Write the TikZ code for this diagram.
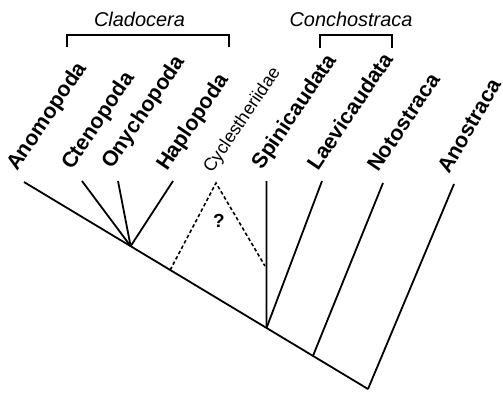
\documentclass[tikz,border=0pt]{standalone}
\usepackage{fontspec}
\setmainfont{Liberation Sans}
\usetikzlibrary{positioning,calc}
\tikzset{
  % --- nodes
  taxon/.style = {font=\fontsize{21.5}{22}\selectfont\bfseries, rotate=56,
                  anchor=base west, inner sep=0pt},
  minor/.style = {taxon, font=\fontsize{18}{18}\selectfont},
  group/.style = {font=\fontsize{20}{22}\selectfont\itshape, inner sep=0pt,
                  anchor=base},
  quest/.style = {font=\fontsize{19}{20}\selectfont\bfseries, inner sep=0pt},
  % --- edges
  br/.style    = {line width=1.8bp, draw=black},
  unsure/.style= {br, line width=1.6bp, dash pattern=on 3.5bp off 2.5bp},
  bk/.style    = {line width=1.5bp, draw=black},
}
\begin{document}
\begin{tikzpicture}[x=1bp,y=-1bp]
  \useasboundingbox (0,0) rectangle (503,393);
  \coordinate (r)  at (368,389);
  \coordinate (a)  at (24,182);
  \coordinate (cl) at ($(r)!0.69!(a)$);
  \coordinate (cy) at ($(r)!0.575!(a)$);
  \coordinate (co) at ($(r)!0.295!(a)$);
  \coordinate (no) at ($(r)!0.16!(a)$);
  \coordinate (ct) at (82,181);
  \coordinate (on) at (118,181);
  \coordinate (ha) at (173,181);
  \coordinate (cq) at (216,183);
  \coordinate (cz) at (265,266);
  \coordinate (sp) at (266.5,181);
  \coordinate (la) at (322,181);
  \coordinate (nt) at (383,183);
  \coordinate (an) at (454,184);

  \draw[br] (a)--(r); \draw[br] (cl)--(ct); \draw[br] (cl)--(on); \draw[br] (cl)--(ha);
  \draw[br] (co)--(sp); \draw[br] (co)--(la); \draw[br] (no)--(nt); \draw[br] (r)--(an);
  \draw[unsure] (cy)--(cq)--(cz);
  \node[quest] (q) at (219,221) {?};

  \node[taxon] (tA) at ([shift={(-7,-10)}]a)  {Anomopoda};
  \node[taxon] (tC) at ([shift={(-10,-10)}]ct) {Ctenopoda};
  \node[taxon] (tO) at ([shift={(-6,-11)}]on) {Onychopoda};
  \node[taxon] (tH) at ([shift={(-6,-9)}]ha)  {Haplopoda};
  \node[minor] (tY) at ([shift={(-4,-9)}]cq)  {Cyclestheriidae};
  \node[taxon] (tS) at ([shift={(-4,-10)}]sp) {Spinicaudata};
  \node[taxon] (tL) at ([shift={(-4,-9)}]la)  {Laevicaudata};
  \node[taxon] (tN) at ([shift={(-5,-10)}]nt) {Notostraca};
  \node[taxon, rotate=4] (tS2) at ([shift={(-5,-9)}]an) {Anostraca};

  \node[group] (cld) at (139.5,26) {Cladocera};
  \node[group] (cch) at (351,26) {Conchostraca};
  \coordinate (cl1) at (67,47);  \coordinate (cl2) at (229,47);
  \coordinate (cc1) at (320,48); \coordinate (cc2) at (392,48);
  \draw[bk] (cl1) |- ($(cl2)+(0,-12)$) -- (cl2);
  \draw[bk] (cc1) |- ($(cc2)+(0,-13)$) -- (cc2);
\end{tikzpicture}
\end{document}
